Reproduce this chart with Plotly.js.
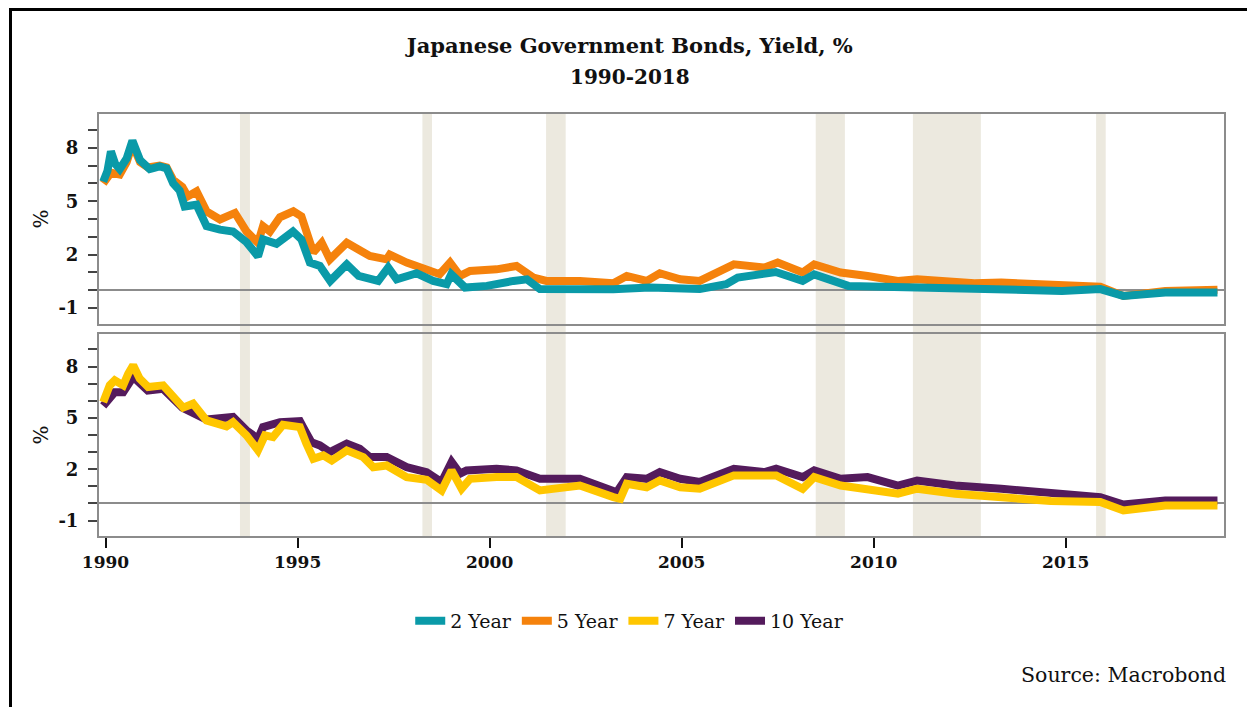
<!DOCTYPE html>
<html>
<head>
<meta charset="utf-8">
<script src="https://cdn.plot.ly/plotly-3.0.1.min.js"></script>
<style>
  html, body { margin: 0; padding: 0; background: #fff; }
  #wrap { position: relative; width: 1247px; height: 707px; overflow: hidden; }
  #chart { position: absolute; left: 0; top: 0; width: 1247px; height: 707px; }
  #frame { position: absolute; left: 9px; top: 8px; width: 1300px; height: 800px;
           border-left: 3px solid #000; border-top: 3px solid #000; pointer-events: none; }
</style>
</head>
<body>
<div id="wrap">
  <div id="chart"></div>
  <div id="frame"></div>
</div>
<script>
// ---- Data (decimal years, yield %) ----
const y2Years = [1989.94,1990.05,1990.14,1990.25,1990.37,1990.55,1990.70,1990.90,1991.15,1991.41,1991.59,1991.76,1991.93,1992.06,1992.37,1992.63,1992.98,1993.32,1993.67,1993.97,1994.10,1994.45,1994.88,1995.10,1995.32,1995.58,1995.85,1996.28,1996.59,1997.10,1997.36,1997.58,1998.10,1998.53,1998.88,1999.00,1999.36,1999.93,2000.62,2000.97,2001.31,2002.35,2003.22,2004.17,2004.96,2005.47,2006.16,2006.46,2007.45,2008.15,2008.45,2009.34,2011.13,2013.12,2014.90,2015.90,2016.50,2017.59,2018.95];
const y2Vals  = [6.1,6.7,7.8,7.1,6.8,7.4,8.4,7.3,6.8,6.95,6.85,6.0,5.6,4.7,4.8,3.6,3.4,3.3,2.7,1.9,2.85,2.6,3.3,2.85,1.55,1.36,0.52,1.45,0.8,0.52,1.27,0.61,0.95,0.52,0.34,0.89,0.15,0.24,0.52,0.61,0.06,0.05,0.05,0.15,0.12,0.06,0.34,0.71,1.02,0.52,0.89,0.24,0.15,0.1,-0.04,0.06,-0.32,-0.13,-0.13];

const y5Years = [1989.94,1990.14,1990.37,1990.55,1990.70,1990.90,1991.10,1991.41,1991.59,1991.76,1992.00,1992.14,1992.37,1992.63,1992.98,1993.37,1993.67,1993.97,1994.10,1994.28,1994.54,1994.89,1995.10,1995.28,1995.41,1995.63,1995.84,1996.28,1996.54,1996.88,1997.32,1997.40,1997.84,1998.27,1998.70,1998.97,1999.23,1999.49,2000.18,2000.70,2001.14,2001.48,2002.35,2003.22,2003.57,2004.09,2004.43,2004.96,2005.47,2006.36,2007.16,2007.50,2008.15,2008.45,2009.14,2009.84,2010.63,2011.13,2012.62,2013.32,2014.61,2015.90,2016.50,2017.59,2018.95];
const y5Vals  = [6.0,6.6,6.5,7.2,8.2,7.2,6.9,7.0,6.9,6.2,5.8,5.27,5.55,4.43,3.97,4.34,3.3,2.66,3.6,3.3,4.1,4.43,4.15,2.85,2.12,2.66,1.73,2.66,2.38,1.92,1.73,2.0,1.55,1.27,0.9,1.55,0.8,1.08,1.17,1.36,0.71,0.52,0.52,0.39,0.8,0.52,0.95,0.61,0.52,1.45,1.27,1.55,0.99,1.45,0.99,0.8,0.52,0.61,0.39,0.43,0.34,0.19,-0.32,-0.04,0.02];

const y7Years = [1989.94,1990.11,1990.24,1990.46,1990.59,1990.72,1990.89,1991.11,1991.50,1991.76,1992.02,1992.28,1992.63,1993.15,1993.32,1993.67,1993.97,1994.15,1994.36,1994.62,1995.06,1995.23,1995.41,1995.67,1995.89,1996.28,1996.71,1996.97,1997.32,1997.84,1998.36,1998.75,1999.01,1999.27,1999.49,2000.18,2000.70,2001.31,2001.92,2002.35,2003.22,2003.40,2003.57,2004.09,2004.43,2004.96,2005.47,2006.36,2007.46,2008.15,2008.45,2009.14,2010.63,2011.13,2012.12,2013.32,2014.61,2015.90,2016.50,2017.59,2018.95];
const y7Vals  = [5.92,6.9,7.19,6.9,7.58,8.07,7.29,6.8,6.9,6.22,5.6,5.83,4.85,4.5,4.75,3.98,3.1,3.98,3.88,4.6,4.46,3.49,2.61,2.81,2.51,3.1,2.71,2.12,2.22,1.54,1.38,0.76,1.93,0.86,1.44,1.54,1.54,0.76,0.95,1.05,0.37,0.27,1.15,0.95,1.34,0.95,0.86,1.64,1.64,0.86,1.54,1.05,0.57,0.86,0.57,0.37,0.14,0.08,-0.41,-0.12,-0.12];

const y10Years = [1989.94,1990.24,1990.46,1990.72,1991.10,1991.50,1992.00,1992.63,1993.32,1993.67,1993.97,1994.10,1994.54,1995.06,1995.19,1995.36,1995.58,1995.84,1996.28,1996.62,1996.88,1997.32,1997.84,1998.36,1998.75,1999.01,1999.23,1999.40,2000.18,2000.70,2001.31,2001.92,2002.35,2003.31,2003.57,2004.09,2004.43,2004.96,2005.47,2006.36,2007.16,2007.46,2008.15,2008.45,2009.14,2009.84,2010.63,2011.13,2012.12,2013.32,2014.61,2015.90,2016.50,2017.59,2018.95];
const y10Vals  = [5.7,6.5,6.5,7.4,6.6,6.7,5.6,4.9,5.05,4.27,3.78,4.46,4.75,4.81,4.27,3.58,3.39,3.0,3.49,3.2,2.71,2.71,2.12,1.83,1.25,2.42,1.74,1.93,2.03,1.93,1.44,1.5,1.44,0.66,1.54,1.44,1.83,1.44,1.25,2.03,1.83,2.03,1.54,1.93,1.44,1.54,1.05,1.34,1.05,0.86,0.57,0.37,-0.06,0.18,0.18];

// Recession periods (shaded)
const recStart = [1993.50, 1998.25, 2001.47, 2008.49, 2011.02, 2015.79];
const recEnd   = [1993.76, 1998.50, 2001.98, 2009.25, 2012.79, 2016.04];

const xTickVals = [1990, 1995, 2000, 2005, 2010, 2015];
const xTickText = ['1990', '1995', '2000', '2005', '2010', '2015'];
const yTickVals = [-1, 2, 5, 8];
const yTickText = ['-1', '2', '5', '8'];
const yMinorVals = [0, 1, 3, 4, 6, 7, 9];

const seriesNames = ['2 Year', '5 Year', '7 Year', '10 Year'];
const seriesColors = ['#0A9AA8', '#F5820C', '#FFC600', '#541B5C'];

const FONT = 'DejaVu Serif, Liberation Serif, serif';
const LW = 8;

function mk(name, color, xs, ys, xaxis, yaxis, rank) {
  return { type: 'scatter', mode: 'lines', name: name, x: xs, y: ys, xaxis: xaxis, yaxis: yaxis,
           line: { color: color, width: LW }, legendrank: rank, hoverinfo: 'skip' };
}

const traces = [
  mk(seriesNames[1], seriesColors[1], y5Years, y5Vals, 'x2', 'y', 2),
  mk(seriesNames[0], seriesColors[0], y2Years, y2Vals, 'x2', 'y', 1),
  mk(seriesNames[3], seriesColors[3], y10Years, y10Vals, 'x', 'y2', 4),
  mk(seriesNames[2], seriesColors[2], y7Years, y7Vals, 'x', 'y2', 3)
];

const shapes = recStart.map((s, i) => ({
  type: 'rect', xref: 'x', yref: 'paper', x0: s, x1: recEnd[i], y0: 0, y1: 1,
  fillcolor: '#ECE9DF', line: { width: 0 }, layer: 'below'
}));

function yAxis(domain, anchor) {
  return {
    domain: domain, anchor: anchor,
    range: [-1.9, 9.9], tickvals: yTickVals, ticktext: yTickText,
    ticks: 'outside', ticklen: 9, tickwidth: 2, tickcolor: '#444',
    minor: { tickvals: yMinorVals, ticks: 'outside', ticklen: 9, tickwidth: 2, tickcolor: '#444', showgrid: false },
    showgrid: false, zeroline: true, zerolinecolor: '#8c8c8c', zerolinewidth: 2,
    showline: true, linecolor: '#8c8c8c', linewidth: 2, mirror: true,
    tickfont: { family: FONT, size: 18, color: '#111', weight: 'bold' },
    ticklabelstandoff: 6,
    title: { text: '%', font: { family: FONT, size: 20, color: '#111' }, standoff: 4 },
    fixedrange: true
  };
}

const xRange = [1989.83, 2019.12];

const layout = {
  width: 1247, height: 707,
  margin: { l: 99, r: 23, t: 114, b: 171 },
  paper_bgcolor: '#fff', plot_bgcolor: '#fff',
  font: { family: FONT, color: '#111' },
  title: { text: 'Japanese Government Bonds, Yield, %', xref: 'container', x: 0.505, xanchor: 'center',
           yref: 'container', y: 1 - 46 / 707, yanchor: 'middle',
           font: { family: FONT, size: 21, color: '#111', weight: 'bold' } },
  xaxis: {
    range: xRange, anchor: 'y2',
    tickvals: xTickVals, ticktext: xTickText,
    ticks: 'outside', ticklen: 10, tickwidth: 2, tickcolor: '#111',
    showgrid: false, zeroline: false,
    showline: true, linecolor: '#8c8c8c', linewidth: 2, mirror: true,
    tickfont: { family: FONT, size: 17, color: '#111', weight: 'bold' },
    fixedrange: true
  },
  xaxis2: {
    range: xRange, anchor: 'y', matches: 'x',
    ticks: '', showticklabels: false,
    showgrid: false, zeroline: false,
    showline: true, linecolor: '#8c8c8c', linewidth: 2, mirror: true,
    fixedrange: true
  },
  yaxis: yAxis([0.5024, 1], 'x2'),
  yaxis2: yAxis([0, 0.4787], 'x'),
  shapes: shapes,
  showlegend: true,
  legend: { orientation: 'h', xref: 'container', yref: 'container', x: 0.505, xanchor: 'center',
            y: 1 - 621 / 707, yanchor: 'middle', traceorder: 'normal',
            font: { family: FONT, size: 19, color: '#111' }, itemwidth: 30 },
  annotations: [
    { text: '<b>1990-2018</b>', xref: 'paper', yref: 'paper', x: (630 - 99) / 1125, y: (536 - 77) / 422,
      xanchor: 'center', yanchor: 'middle', showarrow: false,
      font: { family: FONT, size: 20, color: '#111' } },
    { text: 'Source: Macrobond', xref: 'paper', yref: 'paper', x: (1228 - 99) / 1125, y: (536 - 675) / 422,
      xanchor: 'right', yanchor: 'middle', showarrow: false,
      font: { family: FONT, size: 20.5, color: '#111' } }
  ]
};

Plotly.newPlot('chart', traces, layout, { displayModeBar: false, staticPlot: true });
</script>
</body>
</html>
